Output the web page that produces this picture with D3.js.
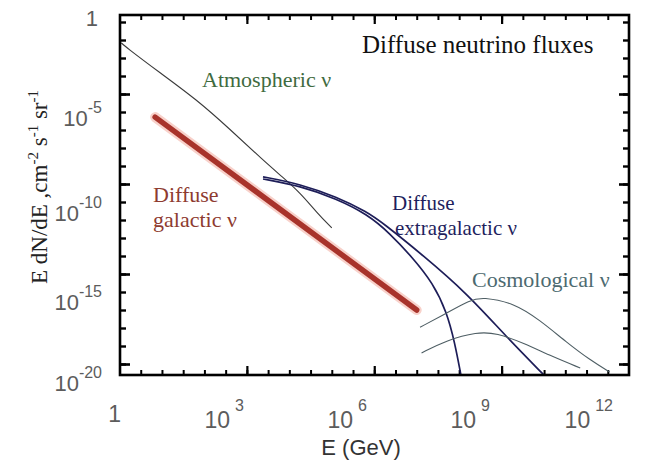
<!DOCTYPE html>
<html>
<head>
<meta charset="utf-8">
<script src="https://cdn.jsdelivr.net/npm/d3@7"></script>
<style>
  body { margin: 0; background: #fff; }
  svg { display: block; }
</style>
</head>
<body>
<svg id="chart" width="646" height="464"></svg>
<script>
// ---- Tick labels --------------------------------------------------------
const xLabelValues = [1, 1e3, 1e6, 1e9, 1e12];
const xLabelExponents = ["", "3", "6", "9", "12"];
const yLabelValues = [1, 1e-5, 1e-10, 1e-15, 1e-20];
const yLabelExponents = ["", "-5", "-10", "-15", "-20"];

// ---- Flux curves: energy (GeV) and E dN/dE (cm^-2 s^-1 sr^-1) -----------
const atmE    = [1.1, 1.4, 9, 67, 400, 2400, 7100, 1.8e4, 4.5e4, 1e5];
const atmFlux = [7e-2, 4.1e-2, 1.5e-3, 4.7e-5, 1.1e-6, 2.1e-8, 2.3e-9, 3.2e-10, 2.5e-11, 3.6e-12];

const galE    = [6.9, 1e7];
const galFlux = [5.2e-6, 1e-16];

const egHardE    = [2400, 1.8e4, 1.3e5, 6.8e5, 1.6e6, 1.4e7, 1.5e8, 1.3e9, 1e10];
const egHardFlux = [2.5e-9, 1e-9, 1.9e-10, 2.8e-11, 6.8e-12, 1.1e-13, 8.7e-16, 3.2e-18, 2.4e-20];

const egSoftE    = [2400, 1.8e4, 1.3e5, 6.8e5, 2.3e6, 8.1e6, 2.4e7, 5.1e7, 7.9e7, 1.1e8];
const egSoftFlux = [1.9e-9, 7.8e-10, 1.5e-10, 2.1e-11, 1.9e-12, 7.8e-14, 3.2e-15, 7.8e-17, 1.5e-18, 2.4e-20];

const cosHighE    = [1.2e7, 5.1e7, 1.8e8, 3.6e8, 1.9e9, 7.9e9, 3.5e10, 1.2e11, 3.5e11];
const cosHighFlux = [1.1e-17, 6.8e-17, 3.6e-16, 5.2e-16, 2.5e-16, 2.8e-17, 1.5e-18, 1.7e-19, 3.6e-20];

const cosLowE    = [1.3e7, 5.1e7, 2.6e8, 7.8e8, 3.2e9, 1.6e10, 7.1e10];
const cosLowFlux = [4.1e-19, 2.1e-18, 6.0e-18, 5.2e-18, 1.5e-18, 2.5e-19, 6.0e-20];

// ---- Layout -------------------------------------------------------------
const frame = { left: 120, right: 629, top: 15, bottom: 375 };
const svg = d3.select("#chart");

const x = d3.scaleLog().domain([1, 1e12]).range([119.5, 629]);
const y = d3.scaleLog().domain([1, 1e-20]).range([22, 382]);
// tick labels sit on a slightly narrower run than the tick marks
const xLabel = d3.scaleLog().domain([1, 1e12]).range([121, 613]);
const yLabelNudge = [4, 14, 19, 18, 9];

const serif = "'Liberation Serif', 'Times New Roman', serif";
const sans = "'Liberation Sans', Arial, sans-serif";

svg.append("rect").attr("width", 646).attr("height", 464).attr("fill", "#fff");

// ---- Axes (ticks point inward) -----------------------------------------
const xMinor = d3.range(1, 24).map(k => Math.pow(10, k / 2));
const xMajor = [1e3, 1e6, 1e9];
const yMinor = d3.range(0, 20).map(k => Math.pow(10, -k));
const yMajor = [1e-4, 1e-9, 1e-14, 1e-19];

function styleAxis(g, w) {
  g.select(".domain").remove();
  g.selectAll("text").remove();
  g.selectAll("line").attr("stroke", "#000").attr("stroke-width", w);
}

[[d3.axisBottom, frame.bottom], [d3.axisTop, frame.top]].forEach(([ax, pos]) => {
  svg.append("g").attr("transform", `translate(0,${pos})`)
    .call(ax(x).tickValues(xMinor).tickSize(-5).tickFormat(""))
    .call(g => styleAxis(g, 2));
  svg.append("g").attr("transform", `translate(0,${pos})`)
    .call(ax(x).tickValues(xMajor).tickSize(-9).tickFormat(""))
    .call(g => styleAxis(g, 2.2));
});
[[d3.axisLeft, frame.left], [d3.axisRight, frame.right]].forEach(([ax, pos]) => {
  svg.append("g").attr("transform", `translate(${pos},0)`)
    .call(ax(y).tickValues(yMinor).tickSize(-6).tickFormat(""))
    .call(g => styleAxis(g, 2.4));
  svg.append("g").attr("transform", `translate(${pos},0)`)
    .call(ax(y).tickValues(yMajor).tickSize(-10).tickFormat(""))
    .call(g => styleAxis(g, 2.6));
});

// ---- Curves ---------------------------------------------------------------
svg.append("clipPath").attr("id", "plotClip")
  .append("rect")
  .attr("x", frame.left).attr("y", frame.top)
  .attr("width", frame.right - frame.left).attr("height", frame.bottom - frame.top);

const plot = svg.append("g").attr("clip-path", "url(#plotClip)");
const line = d3.line()
  .x(d => x(d[0])).y(d => y(d[1]))
  .curve(d3.curveBasis);
const pairs = (es, fs) => es.map((e, i) => [e, fs[i]]);

plot.append("path").datum(pairs(atmE, atmFlux))
  .attr("d", line).attr("fill", "none")
  .attr("stroke", "#3a3a3a").attr("stroke-width", 1.1);

// galactic band: soft halo under a thick red stroke
plot.append("path").datum(pairs(galE, galFlux))
  .attr("d", line).attr("fill", "none")
  .attr("stroke", "#f3b3a6").attr("stroke-opacity", 0.6)
  .attr("stroke-width", 10).attr("stroke-linecap", "round");
plot.append("path").datum(pairs(galE, galFlux))
  .attr("d", line).attr("fill", "none")
  .attr("stroke", "#a8332b").attr("stroke-width", 5.5).attr("stroke-linecap", "round");

[[egHardE, egHardFlux], [egSoftE, egSoftFlux]].forEach(([es, fs]) => {
  plot.append("path").datum(pairs(es, fs))
    .attr("d", line).attr("fill", "none")
    .attr("stroke", "#1d1d58").attr("stroke-width", 1.7);
});

[[cosHighE, cosHighFlux], [cosLowE, cosLowFlux]].forEach(([es, fs]) => {
  plot.append("path").datum(pairs(es, fs))
    .attr("d", line).attr("fill", "none")
    .attr("stroke", "#4e5e64").attr("stroke-width", 1.1);
});

// ---- Frame ------------------------------------------------------------------
svg.append("rect")
  .attr("x", frame.left).attr("y", frame.top)
  .attr("width", frame.right - frame.left).attr("height", frame.bottom - frame.top)
  .attr("fill", "none").attr("stroke", "#000").attr("stroke-width", 2.6);

// ---- Tick labels ------------------------------------------------------------
xLabelValues.forEach((v, i) => {
  const exp = xLabelExponents[i];
  const t = svg.append("text")
    .attr("x", xLabel(v)).attr("y", exp ? 428 : 422)
    .attr("text-anchor", "end")
    .attr("font-family", sans).attr("font-size", 23).attr("fill", "#5c5c5c");
  if (exp) {
    t.append("tspan").text("10");
    t.append("tspan").attr("dx", 5).attr("dy", -17).attr("font-size", 16).text(exp);
  } else {
    t.text("1");
  }
});

yLabelValues.forEach((v, i) => {
  const exp = yLabelExponents[i];
  const t = svg.append("text")
    .attr("x", exp ? 102 : 98).attr("y", y(v) + yLabelNudge[i])
    .attr("text-anchor", "end")
    .attr("font-family", sans).attr("font-size", 22).attr("fill", "#5c5c5c");
  if (exp) {
    t.append("tspan").text("10");
    t.append("tspan").attr("dy", -13).attr("font-size", 16).text(exp);
  } else {
    t.text("1");
  }
});

// ---- Axis titles ------------------------------------------------------------
svg.append("text")
  .attr("x", 361).attr("y", 455).attr("text-anchor", "middle")
  .attr("font-family", sans).attr("font-size", 22).attr("fill", "#333")
  .text("E (GeV)");

const yTitle = svg.append("text")
  .attr("transform", "translate(47,187) rotate(-90)")
  .attr("text-anchor", "middle")
  .attr("font-family", serif).attr("font-size", 23).attr("fill", "#222");
[["E dN/dE ,cm", 0], ["-2", 1], [" s", 0], ["-1", 1], [" sr", 0], ["-1", 1]].forEach(([s, sup], i, arr) => {
  const prevSup = i > 0 && arr[i - 1][1];
  yTitle.append("tspan")
    .attr("dy", sup ? -9 : (prevSup ? 9 : 0))
    .attr("font-size", sup ? 15 : 23)
    .text(s);
});

// ---- Annotations -------------------------------------------------------------
function note(lines, xPos, baselines, color, size) {
  lines.forEach((s, i) => {
    svg.append("text")
      .attr("x", xPos[i]).attr("y", baselines[i])
      .attr("font-family", serif).attr("font-size", size).attr("fill", color)
      .text(s);
  });
}
note(["Diffuse neutrino fluxes"], [362], [53], "#111", 25);
note(["Atmospheric ν"], [202], [87], "#3f6b3f", 22);
note(["Diffuse", "galactic ν"], [153, 153], [202, 227], "#8e3b30", 22);
note(["Diffuse", "extragalactic ν"], [392, 395], [210, 235], "#1f1f5e", 21);
note(["Cosmological ν"], [472], [287], "#4d6a70", 22);
</script>
</body>
</html>
